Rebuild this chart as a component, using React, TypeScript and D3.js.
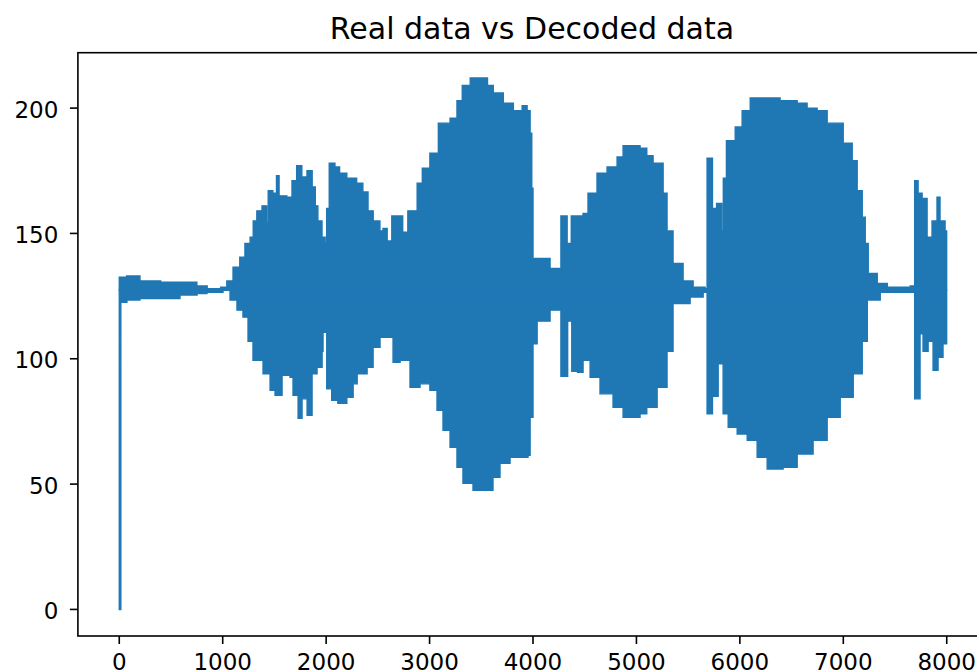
import React, { useRef, useEffect } from "react";
import * as d3 from "d3";

// upper / lower envelope of the waveform (sample index, value)
const upperX = [0, 70, 200, 400, 600, 750, 850, 980, 1040, 1100, 1165, 1215, 1265, 1295, 1330, 1380, 1425, 1440, 1485, 1520, 1545, 1620, 1670, 1715, 1765, 1815, 1865, 1895, 1920, 1960, 1990, 2005, 2030, 2085, 2130, 2200, 2295, 2355, 2405, 2455, 2520, 2550, 2590, 2635, 2740, 2790, 2880, 2930, 3003, 3085, 3198, 3265, 3316, 3393, 3490, 3560, 3616, 3713, 3810, 3895, 3943, 3972, 3988, 4000, 4068, 4165, 4270, 4330, 4370, 4484, 4532, 4619, 4716, 4813, 4871, 4910, 5035, 5100, 5161, 5258, 5296, 5354, 5451, 5548, 5664, 5683, 5735, 5775, 5825, 5840, 5870, 5955, 6022, 6100, 6225, 6389, 6554, 6650, 6747, 6844, 6999, 7086, 7134, 7183, 7212, 7241, 7328, 7425, 7647, 7690, 7723, 7762, 7810, 7858, 7906, 7935, 7984, 7999];
const upperY = [132.5, 133, 131, 130.5, 130.5, 129, 128, 128.5, 131, 136.5, 140.5, 146, 148.5, 155, 159, 161, 154.5, 167, 166, 173, 165, 164.5, 171, 177, 172.5, 175, 168.5, 161, 155, 148.5, 146, 160, 178, 176.5, 174, 172, 170, 166.5, 159, 155, 151, 152, 147, 157, 150.5, 159, 170, 176, 182, 194, 196, 203, 209, 212, 212, 209, 206, 202, 199, 201, 199, 190, 168, 140, 140, 136, 157, 146, 157, 158, 166, 174, 176.5, 180.5, 185, 185, 184, 181, 178, 166, 151, 138, 131, 128.5, 128, 180, 160, 162, 151, 172, 187, 192.5, 199, 204, 204, 203, 202, 200, 199, 194, 186, 179, 167, 156.5, 146, 134, 130, 128.5, 129, 171, 166, 164, 148.5, 155, 164.5, 155, 151, 134];

const lowerX = [0, 15, 74, 200, 400, 587, 752, 848, 1003, 1071, 1138, 1196, 1245, 1293, 1390, 1458, 1506, 1574, 1651, 1680, 1729, 1767, 1816, 1864, 1912, 1961, 1970, 2006, 2054, 2113, 2200, 2261, 2300, 2396, 2454, 2521, 2618, 2647, 2715, 2811, 2908, 3003, 3072, 3130, 3198, 3265, 3323, 3420, 3516, 3613, 3681, 3778, 3952, 3972, 4000, 4040, 4165, 4262, 4270, 4335, 4375, 4430, 4484, 4552, 4648, 4774, 4871, 5035, 5100, 5200, 5296, 5354, 5519, 5645, 5683, 5735, 5790, 5838, 5887, 5974, 6071, 6167, 6264, 6418, 6554, 6708, 6844, 6970, 7096, 7183, 7232, 7357, 7650, 7690, 7742, 7771, 7820, 7868, 7916, 7964, 7999];
const lowerY = [0, 122.5, 123.4, 124, 124, 125.4, 126, 126.5, 127.3, 123.4, 119.4, 116.6, 107, 99.4, 94, 87.4, 85.4, 93.4, 92.6, 85.4, 76.2, 84, 77.4, 94, 96.6, 103, 110.6, 88, 83.4, 82.2, 84.6, 90, 94, 96.6, 104.6, 108.6, 108.6, 98.6, 99.4, 88.6, 90, 87.4, 79.4, 71.5, 64.7, 56.7, 50.3, 47.5, 47.5, 52.7, 58.3, 60.7, 61.5, 76.6, 106, 115, 119.4, 122.5, 93, 115, 95, 94.6, 99.4, 92.6, 86, 80.6, 76.6, 78, 80.6, 88.6, 103, 122, 124.6, 126.5, 78, 85, 98, 78, 72.7, 70, 67.5, 60.7, 56, 56.7, 62, 67.5, 76.6, 84.6, 94, 107, 123.4, 126.5, 126.5, 84, 110, 103, 107, 95.4, 100.6, 106, 110];

const midLevel = 127.5;

const xTicks = [0, 1000, 2000, 3000, 4000, 5000, 6000, 7000, 8000];
const yTicks = [0, 50, 100, 150, 200];
const title = "Real data vs Decoded data";

export default function App() {
    const svgRef = useRef(null);

    const W = 977, H = 670;
    const left = 77.9, right = 988, top = 52.7, bottom = 636;

    useEffect(() => {
        const svg = d3.select(svgRef.current);
        svg.selectAll("*").remove();

        var x = d3.scaleLinear().domain([-399.95, 8398.95]).range([left, right]);
        var y = d3.scaleLinear().domain([-10.6, 222.1]).range([bottom, top]);

        const color = "#1f77b4";

        // upper half of the waveform
        const up = upperX.map((v, i) => ({ x: v, y: upperY[i] }));
        svg.append("path")
            .datum(up)
            .attr("fill", color)
            .attr("stroke", color)
            .attr("stroke-width", 1.4)
            .attr("d", d3.area()
                .curve(d3.curveStepAfter)
                .x(d => x(d.x))
                .y0(y(midLevel))
                .y1(d => y(d.y)));

        // lower half
        const lo = lowerX.map((v, i) => ({ x: v, y: lowerY[i] }));
        svg.append("path")
            .datum(lo)
            .attr("fill", color)
            .attr("stroke", color)
            .attr("stroke-width", 1.4)
            .attr("d", d3.area()
                .curve(d3.curveStepAfter)
                .x(d => x(d.x))
                .y0(d => y(d.y))
                .y1(y(midLevel)));

        // spines
        svg.append("rect")
            .attr("x", left).attr("y", top)
            .attr("width", right - left).attr("height", bottom - top)
            .attr("fill", "none")
            .attr("stroke", "#000")
            .attr("stroke-width", 1.6);

        const font = "DejaVu Sans";

        // x axis (labels run off the bottom edge, as in the original crop)
        const gx = svg.append("g");
        xTicks.forEach(t => {
            gx.append("line")
                .attr("x1", x(t)).attr("x2", x(t))
                .attr("y1", bottom).attr("y2", bottom + 8)
                .attr("stroke", "#000").attr("stroke-width", 1.6);
            gx.append("text")
                .attr("x", x(t)).attr("y", bottom + 34)
                .attr("text-anchor", "middle")
                .attr("font-family", font)
                .attr("font-size", 23)
                .attr("fill", "#000")
                .text(t);
        });

        // y axis
        const gy = svg.append("g");
        yTicks.forEach(t => {
            gy.append("line")
                .attr("x1", left - 8).attr("x2", left)
                .attr("y1", y(t)).attr("y2", y(t))
                .attr("stroke", "#000").attr("stroke-width", 1.6);
            gy.append("text")
                .attr("x", left - 19.5).attr("y", y(t) + 9.5)
                .attr("text-anchor", "end")
                .attr("font-family", font)
                .attr("font-size", 23)
                .attr("fill", "#000")
                .text(t);
        });

        svg.append("text")
            .attr("x", (left + right) / 2 - 1)
            .attr("y", 39)
            .attr("text-anchor", "middle")
            .attr("font-family", font)
            .attr("font-size", 30)
            .attr("fill", "#000")
            .text(title);
    }, []);

    return (
        <svg ref={svgRef} width={W} height={H}
            style={{ position: "absolute", left: 0, top: 0, background: "#fff" }} />
    );
}
